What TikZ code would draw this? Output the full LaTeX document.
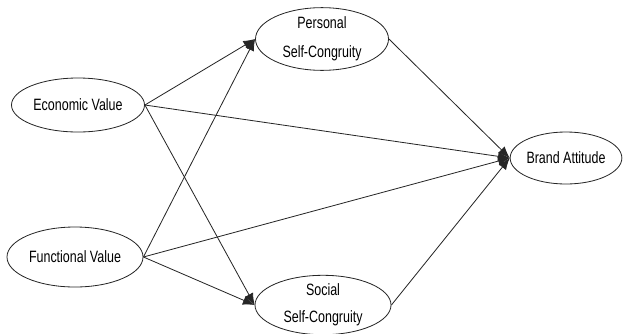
\documentclass[tikz,border=0pt]{standalone}
\usepackage{fontspec}
\setmainfont[FakeStretch=0.76]{Liberation Sans}
\usetikzlibrary{shapes.geometric,arrows.meta}

\begin{document}
\begin{tikzpicture}[x=0.03cm,y=-0.03cm,
    construct/.style={ellipse, draw=black!85, line width=0.7pt, inner sep=0pt,
                      align=center, font=\fontsize{14}{16.8}\selectfont},
    path/.style={draw=black!85, line width=0.7pt, -{Latex[length=10pt,width=8pt]}}]
                \useasboundingbox (0,0) rectangle (626,333);

                % Draw the constructs
                \node[construct, minimum width=3.99cm, minimum height=1.62cm] (eco) at (78,105) {Economic Value};
                \node[construct, minimum width=4.08cm, minimum height=1.80cm] (func) at (75,257) {Functional Value};
                \node[construct, minimum width=3.99cm, minimum height=1.74cm] (pers) at (322,39) {Personal\\[8pt]Self-Congruity};
                \node[construct, minimum width=4.08cm, minimum height=1.62cm] (soc) at (323,305) {Social\\[6pt]Self-Congruity};
                \node[construct, minimum width=3.30cm, minimum height=1.56cm] (brand) at (566,158) {Brand Attitude};

                % Draw the paths
                \draw[path] (eco.east) -- (pers.west);
                \draw[path] (eco.east) -- (soc.west);
                \draw[path] (eco.east) -- (brand.west);
                \draw[path] (func.east) -- (pers.west);
                \draw[path] (func.east) -- (soc.west);
                \draw[path] (func.east) -- (brand.west);
                \draw[path] (pers.east) -- (brand.west);
                \draw[path] (soc.east) -- (brand.west);
            \end{tikzpicture}
\end{document}
